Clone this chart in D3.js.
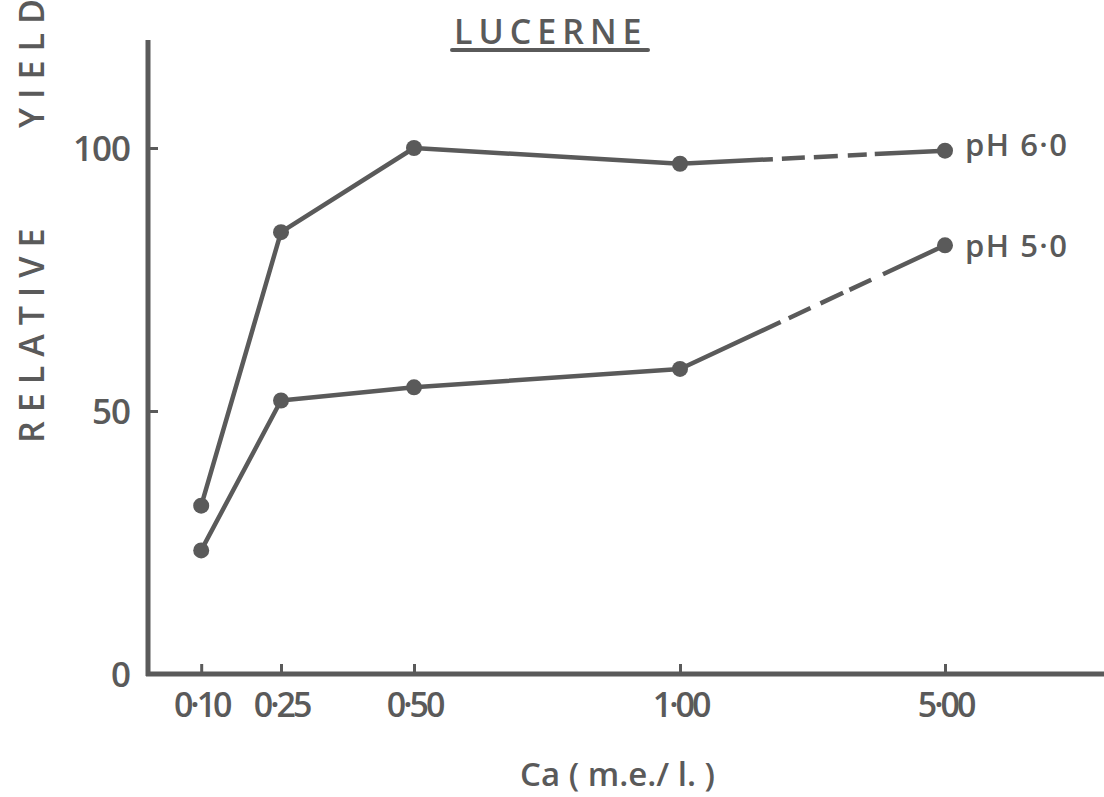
<!DOCTYPE html>
<html>
<head>
<meta charset="utf-8">
<script src="https://cdn.jsdelivr.net/npm/d3@7"></script>
<style>
  html, body { margin: 0; padding: 0; background: #fff; }
  svg { display: block; }
  text { font-family: "Open Sans", sans-serif; font-weight: 600; fill: #5a5a5a; }
</style>
</head>
<body>
<svg id="chart" width="1104" height="797"></svg>
<script>
// Calcium concentration (m.e./l.) and relative yield of lucerne
const calcium = [0.10, 0.25, 0.50, 1.00, 5.00];
const calciumLabels = ["0·10", "0·25", "0·50", "1·00", "5·00"];
const yieldPH6 = [32, 84, 100, 97, 99.5];
const yieldPH5 = [23.5, 52, 54.5, 58, 81.5];
const seriesNames = ["pH 6·0", "pH 5·0"];
const yTicks = [0, 50, 100];

const ink = "#5a5a5a";
const svg = d3.select("#chart");

// 0–1 is linear; 5·00 sits after a break in the axis
const x = d3.scaleLinear().domain([0, 1, 5]).range([148, 680, 945]);
const y = d3.scaleLinear().domain([0, 100]).range([674, 148]);
const yTop = 40;

// Title
svg.append("text")
  .attr("x", 454).attr("y", 44)
  .style("font-size", "34px")
  .style("letter-spacing", "6px")
  .text("LUCERNE");
svg.append("line")
  .attr("x1", 452).attr("x2", 648)
  .attr("y1", 50).attr("y2", 50)
  .attr("stroke", ink).attr("stroke-width", 4).attr("stroke-linecap", "round");

// Y axis title (rotated, the top word runs off the page)
const yTitle = svg.append("g").attr("transform", "translate(44,0) rotate(-90)");
yTitle.append("text").attr("x", -443).attr("y", 0)
  .style("font-size", "34px").style("letter-spacing", "9px").text("RELATIVE");
yTitle.append("text").attr("x", -128).attr("y", 0)
  .style("font-size", "34px").style("letter-spacing", "9px").text("YIELD");

// Axes: ticks point inward
const yAxis = d3.axisLeft(y).tickValues(yTicks).tickSize(-10).tickSizeOuter(0).tickPadding(18)
  .tickFormat(d3.format("d"));
const gy = svg.append("g").attr("transform", `translate(${x(0)},0)`).call(yAxis);
gy.select(".domain").remove();
gy.selectAll(".tick line").attr("stroke", ink).attr("stroke-width", 3);
gy.selectAll(".tick text").style("font-size", "35px").style("letter-spacing", "-1px")
  .attr("fill", ink).attr("dy", "0.36em");

const xAxis = d3.axisBottom(x).tickValues(calcium).tickSize(-10).tickSizeOuter(0).tickPadding(19)
  .tickFormat((d, i) => calciumLabels[i]);
const gx = svg.append("g").attr("transform", `translate(0,${y(0)})`).call(xAxis);
gx.select(".domain").remove();
gx.selectAll(".tick line").attr("stroke", ink).attr("stroke-width", 3);
gx.selectAll(".tick text").style("font-size", "34px").style("letter-spacing", "-3px")
  .attr("fill", ink);

// Axis lines
svg.append("line")
  .attr("x1", x(0)).attr("x2", x(0)).attr("y1", yTop).attr("y2", y(0) + 2)
  .attr("stroke", ink).attr("stroke-width", 5);
svg.append("line")
  .attr("x1", x(0) - 2).attr("x2", 1104).attr("y1", y(0)).attr("y2", y(0))
  .attr("stroke", ink).attr("stroke-width", 5);

// X axis title
svg.append("text")
  .attr("x", 520).attr("y", 786)
  .style("font-size", "33px")
  .text("Ca ( m.e./ l. )");

// Series
const series = [
  { name: seriesNames[0], values: yieldPH6, dash: "93,9,23,9,24,10,19,8,400", labelDy: 5 },
  { name: seriesNames[1], values: yieldPH5, dash: "111,9,24,11,25,7,24,13,400", labelDy: 12 }
];

const line = d3.line().x(d => x(d[0])).y(d => y(d[1]));

series.forEach(s => {
  const pts = calcium.map((c, i) => [c, s.values[i]]);
  const n = pts.length;
  // measured range drawn solid; the step across the axis break is broken
  svg.append("path")
    .attr("d", line(pts.slice(0, n - 1)))
    .attr("fill", "none").attr("stroke", ink).attr("stroke-width", 4.5)
    .attr("stroke-linejoin", "round");
  svg.append("path")
    .attr("d", line(pts.slice(n - 2)))
    .attr("fill", "none").attr("stroke", ink).attr("stroke-width", 4.5)
    .attr("stroke-dasharray", s.dash);
  svg.append("g").selectAll("circle").data(pts).join("circle")
    .attr("cx", d => x(d[0])).attr("cy", d => y(d[1]))
    .attr("r", 8).attr("fill", ink);
  svg.append("text")
    .attr("x", x(pts[n - 1][0]) + 20)
    .attr("y", y(pts[n - 1][1]) + s.labelDy)
    .style("font-size", "31px")
    .style("letter-spacing", "1.5px")
    .text(s.name);
});
</script>
</body>
</html>
